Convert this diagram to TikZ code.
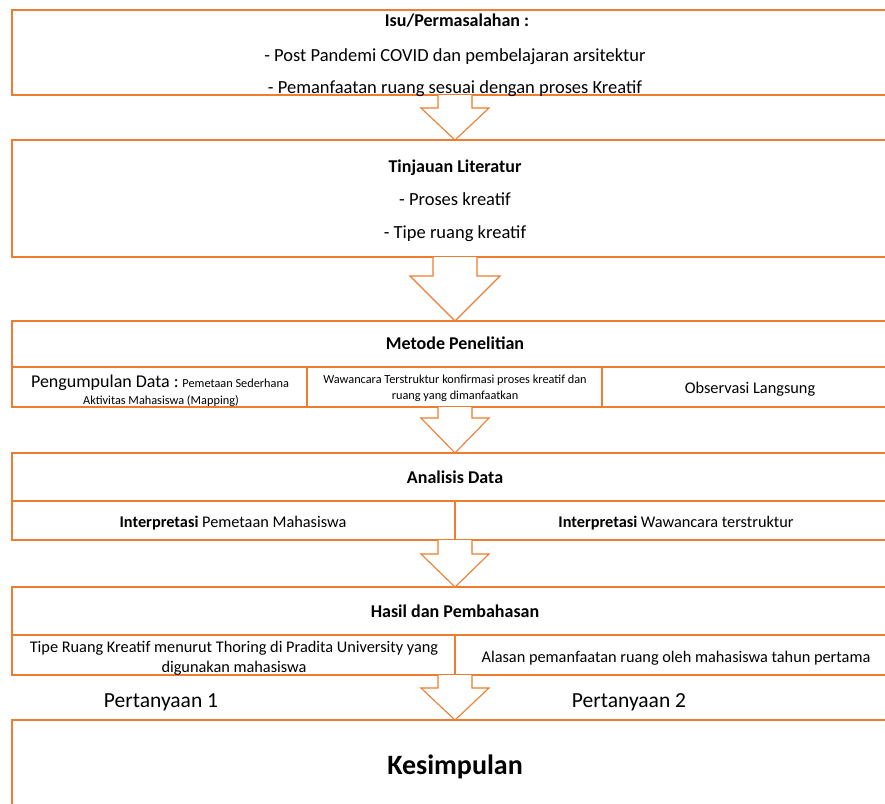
\documentclass[tikz,border=0pt]{standalone}
\usepackage{fontspec}
\setmainfont{Carlito}
\definecolor{orng}{HTML}{ED7D31}
\tikzset{
  boxshape/.style={draw=orng, line width=1.3pt, rectangle, inner sep=0pt, outer sep=0pt, anchor=north west},
  cellline/.style={draw=orng, line width=1.3pt},
  blockarrow/.style={draw=orng, line width=1.1pt, fill=white, line join=miter},
  txt/.style={inner sep=0pt, outer sep=0pt, align=center, text=black, anchor=base},
  fT/.style={font=\fontsize{18}{21}\selectfont\bfseries},
  fA/.style={font=\fontsize{18.5}{22}\selectfont},
  fB/.style={font=\fontsize{16.3}{19}\selectfont},
  fS/.style={font=\fontsize{12.3}{14}\selectfont},
}
\newcommand{\blockarr}[6]{% center x, top y, stem bottom y, tip y, stem half, head half
  \draw[blockarrow] (#1-#5,#2) -- (#1-#5,#3) -- (#1-#6,#3) -- (#1,#4) -- (#1+#6,#3) -- (#1+#5,#3) -- (#1+#5,#2);
}
\begin{document}
\begin{tikzpicture}[x=1pt,y=-1pt]
\useasboundingbox (0,0) rectangle (885,803);
\clip (0,0) rectangle (885,803);
% boxes
\node[boxshape, minimum width=890pt, minimum height=85pt] (b1) at (12,10) {};
\node[boxshape, minimum width=890pt, minimum height=117pt] (b2) at (12,140) {};
\node[boxshape, minimum width=890pt, minimum height=86pt] (b3) at (12,321) {};
\node[boxshape, minimum width=890pt, minimum height=87pt] (b4) at (12,453) {};
\node[boxshape, minimum width=890pt, minimum height=88pt] (b5) at (12,587) {};
\node[boxshape, minimum width=890pt, minimum height=120pt] (b6) at (12,720) {};
% inner dividers
\coordinate (d3) at (12,367);
\draw[cellline] (d3) -- ++(890,0);
\draw[cellline] (307,367) -- (307,407);
\draw[cellline] (602,367) -- (602,407);
\coordinate (d4) at (12,501);
\draw[cellline] (d4) -- ++(890,0);
\draw[cellline] (455,501) -- (455,540);
\coordinate (d5) at (12,635);
\draw[cellline] (d5) -- ++(890,0);
\draw[cellline] (455,635) -- (455,675);
% block arrows
\blockarr{455}{95}{108}{140}{17}{34}
\blockarr{455}{257}{276}{321}{22}{45}
\blockarr{455}{407}{418}{453}{17}{34}
\blockarr{455}{540}{554}{587}{17}{34}
\blockarr{455}{675}{688}{720}{17}{34}
% texts box1
\node[txt,fT] (t11) at (457,27) {Isu/Permasalahan :};
\node[txt,fA] (t12) at (455,61) {- Post Pandemi COVID dan pembelajaran arsitektur};
\node[txt,fA] (t13) at (455,93) {- Pemanfaatan ruang sesuai dengan proses Kreatif};
% box2
\node[txt,fT] (t21) at (455,172) {Tinjauan Literatur};
\node[txt,fA] (t22) at (455,205) {- Proses kreatif};
\node[txt,fA] (t23) at (455,238) {- Tipe ruang kreatif};
% box3
\node[txt,fT] (t31) at (455,349) {Metode Penelitian};
\node[txt] (t32) at (160,387) {\fontsize{18}{20}\selectfont Pengumpulan Data :\fontsize{12.3}{14}\selectfont{} Pemetaan Sederhana};
\node[txt,fS] (t33) at (161,404) {Aktivitas Mahasiswa (Mapping)};
\node[txt,fS] (t34) at (455,383) {Wawancara Terstruktur konfirmasi proses kreatif dan};
\node[txt,fS] (t35) at (455,399) {ruang yang dimanfaatkan};
\node[txt,fB] (t36) at (750,393) {Observasi Langsung};
% box4
\node[txt,fT] (t41) at (455,483) {Analisis Data};
\node[txt,fB] (t42) at (233,527) {\bfseries Interpretasi\mdseries{} Pemetaan Mahasiswa};
\node[txt,fB] (t43) at (676,527) {\bfseries Interpretasi\mdseries{} Wawancara terstruktur};
% box5
\node[txt,fT] (t51) at (455,617) {Hasil dan Pembahasan};
\node[txt,fB] (t52) at (234,652) {Tipe Ruang Kreatif menurut Thoring di Pradita University yang};
\node[txt,fB] (t53) at (234,672) {digunakan mahasiswa};
\node[txt,fB] (t54) at (676,662) {Alasan pemanfaatan ruang oleh mahasiswa tahun pertama};
% questions
\node[txt,font=\fontsize{21.5}{24}\selectfont] (q1) at (161,707) {Pertanyaan 1};
\node[txt,font=\fontsize{21.5}{24}\selectfont] (q2) at (629,707) {Pertanyaan 2};
% conclusion
\node[txt,font=\fontsize{28}{32}\selectfont\bfseries] (t61) at (455,774) {Kesimpulan};
\end{tikzpicture}
\end{document}
